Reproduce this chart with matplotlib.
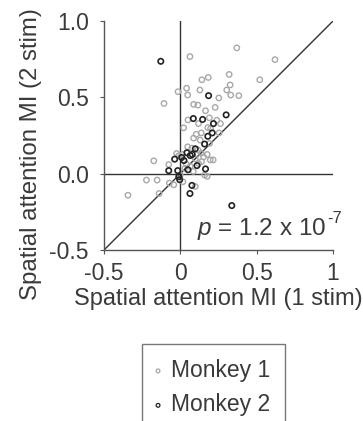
import numpy as np
import matplotlib
matplotlib.use('Agg')
import matplotlib.pyplot as plt

# Spatial attention modulation index, 1 stim (x) vs 2 stim (y)
m1_x = [0.37, 0.62, 0.063, 0.183, 0.141, 0.32, 0.52, 0.326, 0.304, 0.041,
        -0.015, 0.048, 0.128, 0.33, 0.383, 0.252, -0.107, 0.087, 0.115, 0.228,
        0.165, 0.05, 0.19, 0.239, 0.119, 0.263, 0.18, 0.022, 0.198, 0.104,
        0.137, 0.254, 0.087, 0.13, 0.191, 0.048, 0.076, 0.115, -0.024, 0.015,
        -0.011, 0.137, 0.176, 0.152, 0.098, 0.215, 0.196, 0.139, -0.174, -0.076,
        0.039, 0.065, 0.12, 0.085, 0.159, 0.176, -0.222, -0.152, -0.072, -0.043,
        0.017, 0.098, -0.139, -0.343, 0.0, 0.03]
m1_y = [0.824, 0.747, 0.767, 0.63, 0.615, 0.65, 0.615, 0.581, 0.548, 0.56,
        0.537, 0.515, 0.548, 0.515, 0.511, 0.496, 0.46, 0.454, 0.449, 0.434,
        0.412, 0.352, 0.366, 0.35, 0.328, 0.328, 0.302, 0.3, 0.295, 0.258,
        0.267, 0.267, 0.233, 0.22, 0.198, 0.176, 0.167, 0.156, 0.132, 0.126,
        0.117, 0.134, 0.126, 0.11, 0.097, 0.09, 0.09, 0.079, 0.084, 0.06,
        0.062, 0.048, 0.066, 0.015, -0.009, -0.018, -0.042, -0.042, -0.062, -0.073,
        -0.053, -0.084, -0.13, -0.141, -0.01, 0.035]

m2_x = [-0.128, 0.185, 0.30, 0.085, 0.146, 0.217, 0.209, 0.18, 0.159, 0.098,
        0.043, 0.078, 0.065, -0.037, 0.024, 0.009, 0.109, -0.076, -0.017, 0.05,
        0.165, -0.004, 0.076, 0.063, 0.337, -0.01]
m2_y = [0.736, 0.511, 0.385, 0.361, 0.355, 0.328, 0.267, 0.245, 0.194, 0.163,
        0.137, 0.126, 0.119, 0.095, 0.086, 0.106, 0.053, 0.02, 0.02, 0.026,
        0.031, -0.04, -0.077, -0.13, -0.209, -0.02]

x_ticks = [-0.5, 0, 0.5, 1]
x_tick_labels = ['-0.5', '0', '0.5', '1']
y_ticks = [-0.5, 0, 0.5, 1.0]
y_tick_labels = ['-0.5', '0.0', '0.5', '1.0']

plt.rcParams['font.family'] = ['Liberation Sans', 'DejaVu Sans']
plt.rcParams['mathtext.fontset'] = 'custom'
plt.rcParams['mathtext.it'] = 'Liberation Sans:italic'
plt.rcParams['mathtext.rm'] = 'Liberation Sans'
txt = '#3a3a3a'
fs = 16.5

fig = plt.figure(figsize=(3.63, 4.21), dpi=100)
ax = fig.add_axes([104/363, 1 - 250/421, 229/363, 229/421])

ax.plot([-0.5, 1], [-0.5, 1], color='#333333', lw=1.0, zorder=1)
ax.axhline(0, color='#333333', lw=1.0, zorder=1)
ax.axvline(0, color='#333333', lw=1.0, zorder=1)

ax.scatter(m1_x, m1_y, s=15, facecolors='none', edgecolors='#a8a8a8',
           linewidths=1.0, zorder=2, label='Monkey 1')
ax.scatter(m2_x, m2_y, s=15, facecolors='none', edgecolors='#222222',
           linewidths=1.2, zorder=3, label='Monkey 2')

# p-value with a hyphen superscript, as in the original
ptxt = ax.text(0.11, -0.40, r'$p$ = 1.2 x 10', fontsize=17.5, color=txt,
               ha='left', va='baseline', clip_on=False)
ax.annotate('-7', xy=(1.0, 0.6), xycoords=ptxt, fontsize=12, color=txt,
            ha='left', va='bottom', xytext=(0.5, 0), textcoords='offset points',
            annotation_clip=False)

ax.set_xlim(-0.5, 1)
ax.set_ylim(-0.5, 1)
ax.set_xticks(x_ticks)
ax.set_xticklabels(x_tick_labels)
ax.set_yticks(y_ticks)
ax.set_yticklabels(y_tick_labels)
for s in ['top', 'right']:
    ax.spines[s].set_visible(False)
for s in ['left', 'bottom']:
    ax.spines[s].set_color('#555555')
    ax.spines[s].set_linewidth(1.0)
ax.tick_params(direction='out', length=3, color='#555555', labelsize=fs,
               labelcolor=txt)
ax.tick_params(axis='x', pad=6)
ax.tick_params(axis='y', pad=8)
ax.set_xlabel('Spatial attention MI (1 stim)', fontsize=17, color=txt)
ax.set_ylabel('Spatial attention MI (2 stim)', fontsize=17.3, color=txt)
ax.xaxis.set_label_coords(0.5, -(288 - 250) / 229)
ax.yaxis.set_label_coords(-(104 - 42) / 229, (250 - 154) / 229)

leg = fig.legend(handles=ax.collections, labels=['Monkey 1', 'Monkey 2'],
                 loc='upper left', bbox_to_anchor=(142/363, 1 - 344/421),
                 fontsize=fs, frameon=True, fancybox=False, markerscale=0.7,
                 handlelength=0.1, handletextpad=0.5, labelspacing=0.5,
                 borderpad=0.65, borderaxespad=0)
leg.get_frame().set_edgecolor('#555555')
leg.get_frame().set_linewidth(1.0)
for t in leg.get_texts():
    t.set_color(txt)
for h in leg.legend_handles:
    h.set_linewidth(0.9)

fig.savefig('out.png', dpi=100)
